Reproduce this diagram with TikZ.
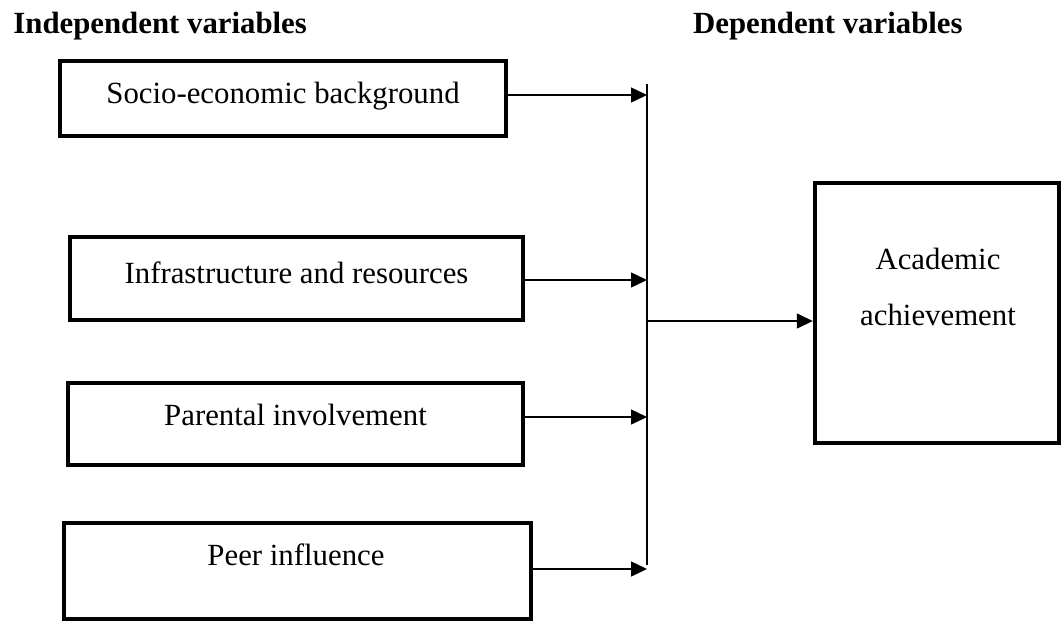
\documentclass[tikz,border=0pt]{standalone}
\usepackage{fontspec}
\setmainfont{Liberation Serif}
\usetikzlibrary{arrows.meta}
\tikzset{
  varbox/.style={draw,line width=2.2pt,inner sep=0pt},
  lbl/.style={inner sep=0pt,anchor=base,font=\fontsize{15.4}{28}\selectfont},
  ttl/.style={lbl,font=\fontsize{15.4}{28}\selectfont\bfseries},
  arr/.style={line width=0.75pt,-{Triangle[length=8pt,width=7.5pt]}}
}
\begin{document}
\begin{tikzpicture}[x=0.5pt,y=-0.5pt]
    \useasboundingbox (0,0) rectangle (1062,622);
    % headings
    \node[ttl,anchor=base west] (indep) at (13,33) {Independent variables};
    \node[ttl,anchor=base east] (dep) at (963,33) {Dependent variables};
    % boxes
    \node[varbox,minimum width=223pt,minimum height=37.5pt] (socio) at (283,98.5) {};
    \node[varbox,minimum width=226.5pt,minimum height=41.5pt] (infra) at (296.5,278.5) {};
    \node[varbox,minimum width=227.5pt,minimum height=41pt] (parent) at (295.5,424) {};
    \node[varbox,minimum width=233.5pt,minimum height=48pt] (peer) at (297.5,571) {};
    \node[varbox,minimum width=122pt,minimum height=130pt] (ach) at (937,313) {};
    \node[lbl] (socio-t) at (283,103) {Socio-economic background};
    \node[lbl] (infra-t) at (296.5,283) {Infrastructure and resources};
    \node[lbl] (parent-t) at (295.5,425) {Parental involvement};
    \node[lbl] (peer-t) at (296,565) {Peer influence};
    \node[lbl,anchor=center,align=center] (ach-t) at (938,287) {Academic\\achievement};
    % spine and arrows
    \coordinate (top) at (647,84);
    \coordinate (bot) at (647,565);
    \coordinate (s1) at (647,95);
    \coordinate (s2) at (647,280);
    \coordinate (s3) at (647,417);
    \coordinate (s4) at (647,569);
    \coordinate (mid) at (647,321);
    \draw[line width=0.75pt] (top)--(bot);
    \draw[arr] (socio.east |- s1)--(s1);
    \draw[arr] (infra.east |- s2)--(s2);
    \draw[arr] (parent.east |- s3)--(s3);
    \draw[arr] (peer.east |- s4)--(s4);
    \draw[arr] (mid)--(mid -| ach.west);
  \end{tikzpicture}
\end{document}
